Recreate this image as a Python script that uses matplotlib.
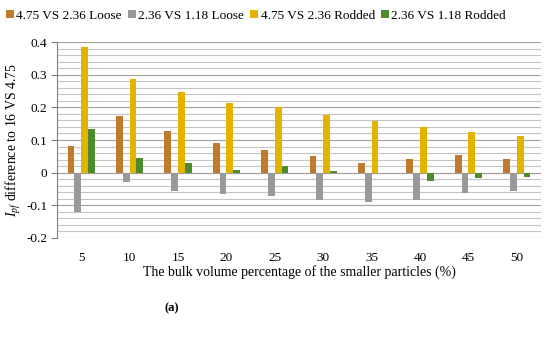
import matplotlib
matplotlib.use('Agg')
import matplotlib.pyplot as plt
import numpy as np
from matplotlib.ticker import MultipleLocator

# Данные
percent = [5, 10, 15, 20, 25, 30, 35, 40, 45, 50]
loose_475_236 = [0.083, 0.173, 0.127, 0.091, 0.068, 0.052, 0.030, 0.042, 0.055, 0.042]
loose_236_118 = [-0.121, -0.028, -0.055, -0.064, -0.072, -0.083, -0.089, -0.083, -0.063, -0.057]
rodded_475_236 = [0.386, 0.287, 0.248, 0.212, 0.202, 0.177, 0.157, 0.139, 0.126, 0.112]
rodded_236_118 = [0.134, 0.044, 0.031, 0.009, 0.019, 0.006, -0.002, -0.024, -0.015, -0.012]

series = [
    ('4.75 VS 2.36 Loose', loose_475_236, '#C07A2B'),
    ('2.36 VS 1.18 Loose', loose_236_118, '#999999'),
    ('4.75 VS 2.36 Rodded', rodded_475_236, '#E2B400'),
    ('2.36 VS 1.18 Rodded', rodded_236_118, '#4E8B2E'),
]

plt.rcParams['font.family'] = ['Liberation Serif', 'DejaVu Serif']
plt.rcParams['mathtext.fontset'] = 'custom'
plt.rcParams['mathtext.rm'] = 'Liberation Serif'
plt.rcParams['mathtext.it'] = 'Liberation Serif:italic'

fig = plt.figure(figsize=(5.5, 3.39), dpi=100)
ax = fig.add_axes([0.1036, 0.298, 0.88, 0.578])

x = np.arange(len(percent))
w = 0.14
for i, (name, vals, col) in enumerate(series):
    ax.bar(x + (i - 1.5) * w, vals, width=w, color=col, label=name, zorder=3)

ax.set_xlim(-0.5, len(percent) - 0.5)
ax.set_ylim(-0.2, 0.4)
ax.yaxis.set_minor_locator(MultipleLocator(0.02))
ax.set_yticks([-0.2, -0.1, 0, 0.1, 0.2, 0.3, 0.4])
ax.set_yticklabels(['-0.2', '-0.1', '0', '0.1', '0.2', '0.3', '0.4'])
ax.grid(axis='y', which='major', color='#A0A0A0', linewidth=0.8, zorder=0)
ax.grid(axis='y', which='minor', color='#C4C4C4', linewidth=0.8, zorder=0)
ax.axhline(0, color='#A0A0A0', linewidth=0.8, zorder=1)

ax.set_xticks(x)
ax.set_xticklabels([str(p) for p in percent])
ax.tick_params(axis='x', length=0, pad=10, labelsize=9.5)
ax.tick_params(axis='y', which='major', length=4, color='#808080', labelsize=9.5, pad=3)
ax.tick_params(axis='y', which='minor', length=0)

for s in ['top', 'right', 'bottom']:
    ax.spines[s].set_visible(False)
ax.spines['left'].set_color('#808080')
ax.spines['left'].set_linewidth(0.8)

ax.set_xlabel('The bulk volume percentage of the smaller particles (%)', fontsize=10, labelpad=1)
ax.set_ylabel(r'$I_{pf}$ difference to 16 VS 4.75', fontsize=10, labelpad=2)

fig.legend(loc='upper center', bbox_to_anchor=(0.465, 1.0), ncol=4, frameon=False,
           fontsize=9.5, handlelength=0.6, handleheight=0.6, handletextpad=0.2,
           columnspacing=0.45, borderaxespad=0.35)

fig.text(0.313, 0.09, '(a)', fontsize=9, fontweight='bold', ha='center', va='center')

fig.savefig('out.png', dpi=100)
